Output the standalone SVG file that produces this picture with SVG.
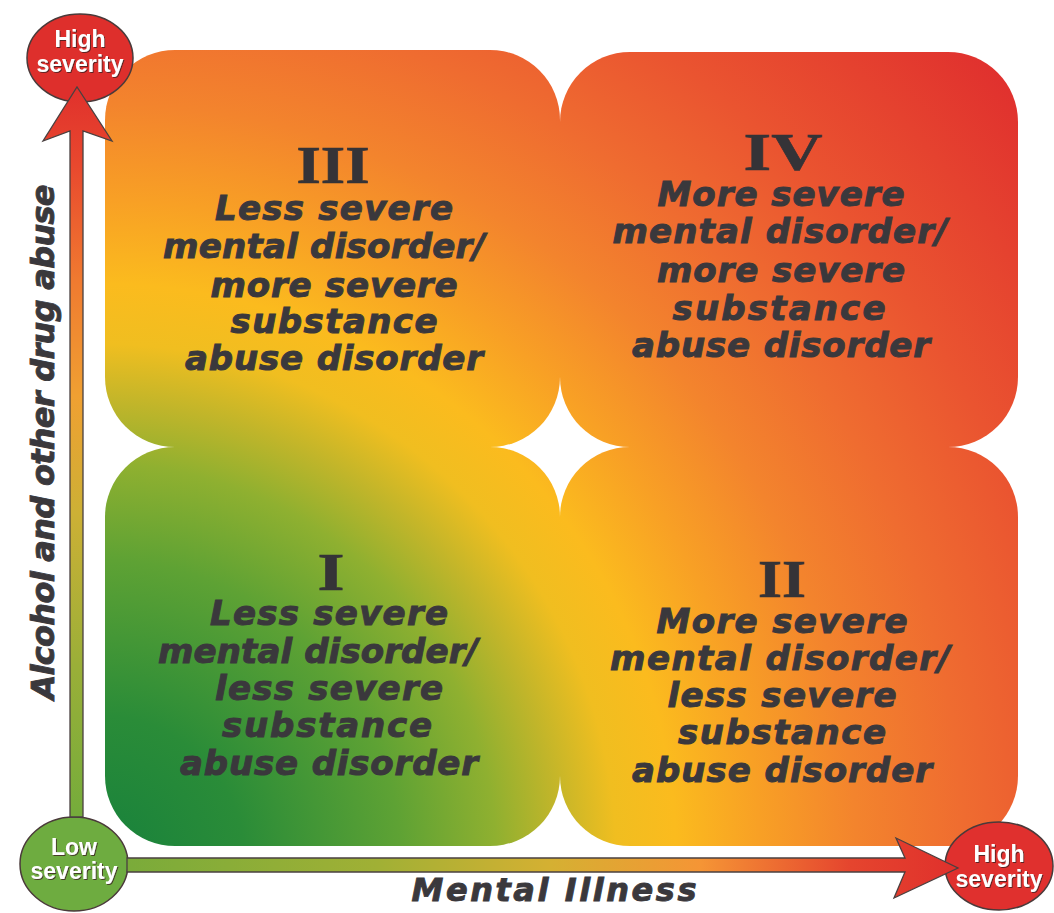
<svg xmlns="http://www.w3.org/2000/svg" width="1054" height="913" viewBox="0 0 1054 913">
<style>
.q{fill:url(#quadGrad)}
.num{font-family:"Liberation Serif","Times New Roman",serif;font-weight:bold;font-size:53px;fill:#353337;stroke:#353337;stroke-width:0.6;text-anchor:middle}
.lbl{font-family:"DejaVu Sans","Liberation Sans",sans-serif;font-weight:bold;font-style:italic;font-size:34px;fill:#3a383c;stroke:#3a383c;stroke-width:1;text-anchor:middle}
.axis{font-family:"DejaVu Sans","Liberation Sans",sans-serif;font-weight:bold;font-style:italic;font-size:32px;fill:#3a383c;stroke:#3a383c;stroke-width:0.9;text-anchor:middle}
.sev{font-family:"Liberation Sans",Arial,sans-serif;font-weight:bold;font-size:23px;fill:#ffffff;text-anchor:middle;filter:url(#sh)}
.circ{stroke:#4a3a3a;stroke-width:1.5}
.arr{stroke:#4a4040;stroke-width:1.3;stroke-linejoin:miter}
</style>
<defs>
<radialGradient id="quadGrad" gradientUnits="userSpaceOnUse" cx="100" cy="860" r="1200">
<stop offset="0" stop-color="#17813c"/>
<stop offset="0.12" stop-color="#2a8c38"/>
<stop offset="0.25" stop-color="#5ea234"/>
<stop offset="0.33" stop-color="#8fb030"/>
<stop offset="0.38" stop-color="#c0b52a"/>
<stop offset="0.43" stop-color="#f0be20"/>
<stop offset="0.48" stop-color="#fbbb1e"/>
<stop offset="0.55" stop-color="#f8a025"/>
<stop offset="0.63" stop-color="#f3842d"/>
<stop offset="0.72" stop-color="#ef6c30"/>
<stop offset="0.82" stop-color="#ea5430"/>
<stop offset="1" stop-color="#e0302e"/>
</radialGradient>
<linearGradient id="vGrad" gradientUnits="userSpaceOnUse" x1="0" y1="860" x2="0" y2="87">
<stop offset="0" stop-color="#6aab3c"/>
<stop offset="0.25" stop-color="#9aaf38"/>
<stop offset="0.45" stop-color="#cdb035"/>
<stop offset="0.6" stop-color="#f0a032"/>
<stop offset="0.75" stop-color="#f07a30"/>
<stop offset="0.9" stop-color="#e8482e"/>
<stop offset="1" stop-color="#e0302c"/>
</linearGradient>
<linearGradient id="hGrad" gradientUnits="userSpaceOnUse" x1="127" y1="0" x2="958" y2="0">
<stop offset="0" stop-color="#7aab3a"/>
<stop offset="0.3" stop-color="#a0b035"/>
<stop offset="0.51" stop-color="#d5b032"/>
<stop offset="0.69" stop-color="#f59535"/>
<stop offset="0.87" stop-color="#e5452e"/>
<stop offset="1" stop-color="#e0302c"/>
</linearGradient>
<filter id="sh" x="-10%" y="-20%" width="120%" height="140%">
<feDropShadow dx="1" dy="1" stdDeviation="0.6" flood-color="#3a2020" flood-opacity="0.8"/>
</filter>
</defs>

<g id="quadrant-III">
<rect class="q" x="105" y="50" width="455" height="397" rx="70" ry="70"/>
<text class="num" x="333" y="183" textLength="73" lengthAdjust="spacingAndGlyphs">III</text>
<text class="lbl" x="334" y="220" textLength="238">Less severe</text>
<text class="lbl" x="324" y="258" textLength="322">mental disorder/</text>
<text class="lbl" x="334" y="297" textLength="247">more severe</text>
<text class="lbl" x="334" y="333" textLength="207">substance</text>
<text class="lbl" x="334" y="370" textLength="298">abuse disorder</text>
</g>

<g id="quadrant-IV">
<rect class="q" x="560" y="52" width="458" height="395" rx="70" ry="70"/>
<text class="num" x="783" y="170" textLength="79" lengthAdjust="spacingAndGlyphs">IV</text>
<text class="lbl" x="781" y="206" textLength="247">More severe</text>
<text class="lbl" x="780" y="243" textLength="335">mental disorder/</text>
<text class="lbl" x="781" y="282" textLength="248">more severe</text>
<text class="lbl" x="779" y="320" textLength="213">substance</text>
<text class="lbl" x="781" y="357" textLength="298">abuse disorder</text>
</g>

<g id="quadrant-I">
<rect class="q" x="105" y="447" width="455" height="399" rx="70" ry="70"/>
<text class="num" x="331" y="590" textLength="27" lengthAdjust="spacingAndGlyphs">I</text>
<text class="lbl" x="329" y="625" textLength="238">Less severe</text>
<text class="lbl" x="318" y="663" textLength="320">mental disorder/</text>
<text class="lbl" x="329" y="700" textLength="228">less severe</text>
<text class="lbl" x="327" y="737" textLength="210">substance</text>
<text class="lbl" x="329" y="775" textLength="298">abuse disorder</text>
</g>

<g id="quadrant-II">
<rect class="q" x="560" y="447" width="458" height="399" rx="70" ry="70"/>
<text class="num" x="782" y="597" textLength="48" lengthAdjust="spacingAndGlyphs">II</text>
<text class="lbl" x="782" y="633" textLength="251">More severe</text>
<text class="lbl" x="780" y="670" textLength="340">mental disorder/</text>
<text class="lbl" x="782" y="707" textLength="229">less severe</text>
<text class="lbl" x="782" y="744" textLength="208">substance</text>
<text class="lbl" x="782" y="782" textLength="300">abuse disorder</text>
</g>

<g id="high-severity-top">
<ellipse class="circ" cx="80" cy="58" rx="53" ry="44" fill="#de2f2c"/>
<text class="sev" x="80" y="47">High</text>
<text class="sev" x="80" y="72">severity</text>
</g>

<g id="low-severity">
<ellipse class="circ" cx="74" cy="864" rx="54" ry="47" fill="#6eac40"/>
<text class="sev" x="74" y="855">Low</text>
<text class="sev" x="74" y="879">severity</text>
</g>

<g id="high-severity-right">
<ellipse class="circ" cx="999" cy="866" rx="54" ry="44" fill="#e0302e"/>
<text class="sev" x="999" y="862">High</text>
<text class="sev" x="999" y="887">severity</text>
</g>

<g id="connectors">
<path class="arr" fill="url(#vGrad)" d="M70,817 L70,131 L43,141 L77,87 L112,141 L83,131 L83,817 Z"/>
<path class="arr" fill="url(#hGrad)" d="M127,858 L905,858 L896,838 L958,868 L894,898 L905,872 L127,872 Z"/>
</g>

<g id="axis-labels">
<text class="axis" transform="translate(54,442) rotate(-90)" x="0" y="0" textLength="515">Alcohol and other drug abuse</text>
<text class="axis" x="554" y="901" textLength="285">Mental Illness</text>
</g>
</svg>
